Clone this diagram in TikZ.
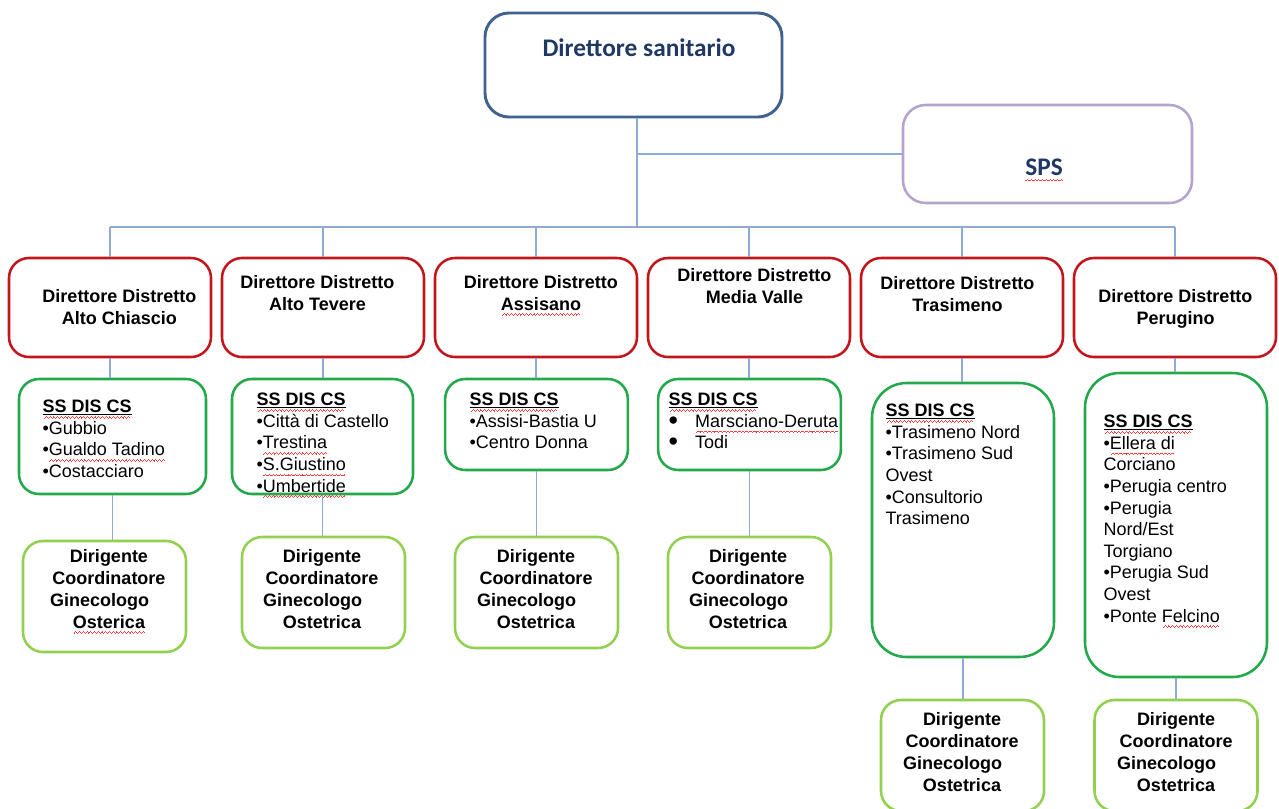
\documentclass[tikz,border=0pt]{standalone}
\usepackage{fontspec}
\setmainfont{Liberation Sans}
\newfontfamily\calibri{Carlito}
\usepackage{xcolor}
\usetikzlibrary{positioning}

\definecolor{navyline}{HTML}{41618F}
\definecolor{navytext}{HTML}{1F3864}
\definecolor{lilac}{HTML}{B4A3CC}
\definecolor{distred}{HTML}{C3161C}
\definecolor{ssgreen}{HTML}{23A84B}
\definecolor{dirgreen}{HTML}{92D050}
\definecolor{wirecol}{HTML}{8FAAD4}
\definecolor{spellred}{HTML}{FF3B3B}

% wavy spell-check mark
\newsavebox\splbox
\newcommand{\wavecell}{\hbox{\rule[-4.3pt]{0.7pt}{0.55pt}\rule[-3.7pt]{0.7pt}{0.55pt}\rule[-3.1pt]{0.7pt}{0.55pt}\rule[-3.7pt]{0.7pt}{0.55pt}}}
\newcommand{\spl}[1]{\sbox\splbox{#1}\rlap{\usebox\splbox}\textcolor{spellred}{\hbox to\wd\splbox{\cleaders\wavecell\hfill}}}
\newcommand{\ssdis}{\spl{\textbf{\underline{SS DIS CS}}}}
\newcommand{\bigdot}{\makebox[20pt][l]{\raisebox{-1.6pt}{\scalebox{1.5}{\textbullet}}}}
\newcommand{\gine}{Ginecologo\hspace{14pt}\mbox{}}

\begin{document}
\begin{tikzpicture}[x=0.75pt,y=-0.75pt,node distance=159.75pt,line width=0.8pt,
  dbox/.style={draw,rounded corners=15pt,line width=1.9pt,inner sep=0pt},
  distbox/.style={dbox,draw=distred,minimum width=151.5pt,minimum height=74.25pt},
  ssbox/.style={dbox,draw=ssgreen,minimum width=137pt},
  dirbox/.style={dbox,draw=dirgreen,minimum width=122.25pt,minimum height=83.25pt},
  disttext/.style={anchor=north,align=center,inner sep=0pt,font=\bfseries\fontsize{13.5}{16.5}\selectfont},
  sstext/.style={anchor=north west,align=left,inner sep=0pt,font=\fontsize{13.5}{16.2}\selectfont},
  toptext/.style={font=\calibri\bfseries\fontsize{19}{22}\selectfont,text=navytext},
  wire/.style={draw=wirecol,line width=0.8pt}]
  \useasboundingbox (0,0) rectangle (1279,808);

  \node[dbox,draw=navyline,line width=2.2pt,rounded corners=18pt,minimum width=222.75pt,minimum height=78pt] (ds) at (633.5,65) {};
  \node[toptext] (dstext) at (639,48) {Direttore sanitario};
  \node[dbox,draw=lilac,rounded corners=17pt,minimum width=216.75pt,minimum height=73.5pt] (sps) at (1047.5,154) {};
  \node[toptext] (spstext) at (1044,170) {\spl{SPS}};

  % distretti
  \node[distbox] (r1) at (110,307.5) {};
  \node[distbox] (r2) [right of=r1] {};
  \node[distbox] (r3) [right of=r2] {};
  \node[distbox] (r4) [right of=r3] {};
  \node[distbox] (r5) [right of=r4] {};
  \node[distbox] (r6) [right of=r5] {};
  \node[disttext] (r1text) at (119.5,288.5) {Direttore Distretto\\Alto Chiascio};
  \node[disttext] (r2text) at (317.5,274.5) {Direttore Distretto\\Alto Tevere};
  \node[disttext] (r3text) at (541,274.5) {Direttore Distretto\\\spl{Assisano}};
  \node[disttext] (r4text) at (754.5,267.5) {Direttore Distretto\\Media Valle};
  \node[disttext] (r5text) at (957.5,275.5) {Direttore Distretto\\Trasimeno};
  \node[disttext] (r6text) at (1175.5,288.5) {Direttore Distretto\\Perugino};

  % SS DIS CS
  \node[ssbox,minimum width=140.25pt,minimum height=86.25pt] (g1) at (112.5,436.5) {};
  \node[ssbox,minimum width=135.75pt,minimum height=86.25pt] (g2) at (322.5,436.5) {};
  \node[ssbox,minimum height=68.25pt] (g3) at (536.5,424.5) {};
  \node[ssbox,minimum height=68.25pt] (g4) at (749.5,424.5) {};
  \node[ssbox,rounded corners=26pt,minimum width=136.5pt,minimum height=205.5pt] (g5) at (963,520) {};
  \node[ssbox,rounded corners=26pt,minimum width=136.5pt,minimum height=228pt] (g6) at (1176,525) {};
  \node[sstext] (g1text) at (42,399.5) {\ssdis\\\textbullet Gubbio\\\textbullet\spl{Gualdo Tadino}\\\textbullet Costacciaro};
  \node[sstext] (g2text) at (256,392.5) {\ssdis\\\textbullet Città di Castello\\\textbullet\spl{Trestina}\\\textbullet\spl{S.Giustino}\\\textbullet\spl{Umbertide}};
  \node[sstext] (g3text) at (469,392.5) {\ssdis\\\textbullet Assisi-Bastia U\\\textbullet Centro Donna};
  \node[sstext] (g4text) at (668,392.5) {\ssdis\\\bigdot\spl{Marsciano-Deruta}\\\bigdot Todi};
  \node[sstext] (g5text) at (885,403.5) {\ssdis\\\textbullet Trasimeno Nord\\\textbullet Trasimeno Sud\\Ovest\\\textbullet Consultorio\\Trasimeno};
  \node[sstext] (g6text) at (1103,414.5) {\ssdis\\\textbullet\spl{Ellera di}\\Corciano\\\textbullet Perugia centro\\\textbullet Perugia\\Nord/Est\\Torgiano\\\textbullet Perugia Sud\\Ovest\\\textbullet Ponte \spl{Felcino}};

  % dirigenti
  \node[dirbox] (b1) at (104.5,596.5) {};
  \node[dirbox] (b2) at (323.5,592.5) {};
  \node[dirbox] (b3) at (536.5,592.5) {};
  \node[dirbox] (b4) at (749.5,592.5) {};
  \node[dirbox] (b5) at (962.5,755.5) {};
  \node[dirbox] (b6) at (1176,755.5) {};
  \node[disttext] (b1text) at (109,548.5) {Dirigente\\Coordinatore\\\gine\\\spl{Osterica}};
  \node[disttext] (b2text) at (322,548.5) {Dirigente\\Coordinatore\\\gine\\Ostetrica};
  \node[disttext] (b3text) at (536,548.5) {Dirigente\\Coordinatore\\\gine\\Ostetrica};
  \node[disttext] (b4text) at (748,548.5) {Dirigente\\Coordinatore\\\gine\\Ostetrica};
  \node[disttext] (b5text) at (962,711.5) {Dirigente\\Coordinatore\\\gine\\Ostetrica};
  \node[disttext] (b6text) at (1176,711.5) {Dirigente\\Coordinatore\\\gine\\Ostetrica};

  % connectors
  \coordinate (bus) at (637,227);
  \coordinate (trunk) at ([xshift=2.6pt]ds.south);
  \draw[wire] (trunk) -- (trunk |- bus);
  \draw[wire] (trunk |- sps.west) -- (sps.west);
  \draw[wire] (r1.north |- bus) -- (r6.north |- bus);
  \foreach \i in {1,...,6}{
    \draw[wire] (r\i.north |- bus) -- (r\i.north);
    \draw[wire] (r\i.south) -- (r\i.south |- g\i.north);
    \draw[wire] (g\i.south) -- (g\i.south |- b\i.north);
  }
\end{tikzpicture}
\end{document}
